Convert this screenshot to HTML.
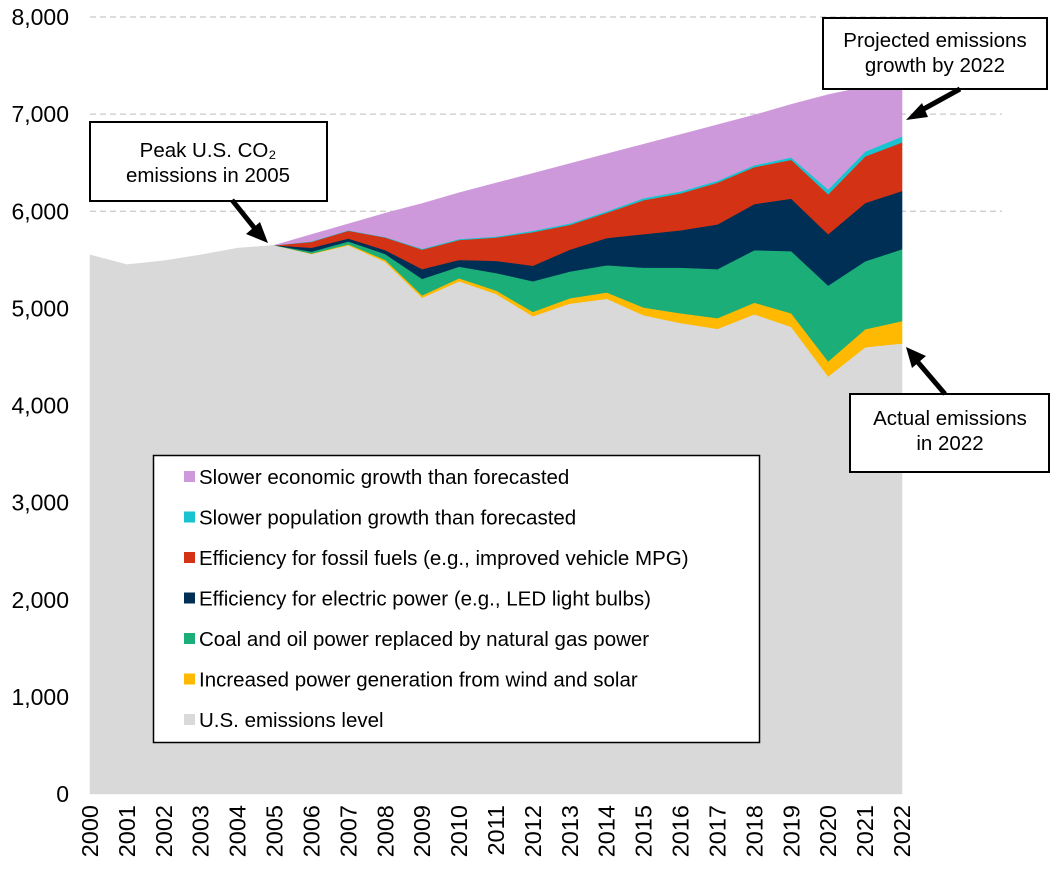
<!DOCTYPE html>
<html><head><meta charset="utf-8">
<style>
body{margin:0;background:#fff;}
svg text{font-family:"Liberation Sans",Arial,sans-serif;fill:#000;}
</style></head>
<body>
<svg id="chart" width="1056" height="866" viewBox="0 0 1056 866" xmlns="http://www.w3.org/2000/svg">
<g id="grid"></g>
<g id="areas"></g>
<g id="yaxis"></g>
<g id="xaxis"></g>
<g id="legend">
  <rect x="153.5" y="455.5" width="606" height="287" fill="#fff" stroke="#000" stroke-width="1.5"/>
</g>
<g>
  <rect x="90" y="122" width="237" height="79" fill="#fff" stroke="#000" stroke-width="2"/>
  <text x="208" y="157" font-size="20.5" text-anchor="middle">Peak U.S. CO₂</text>
  <text x="208" y="182" font-size="20.5" text-anchor="middle">emissions in 2005</text>
  <line x1="232" y1="200" x2="256" y2="230" stroke="#000" stroke-width="5"/>
  <polygon points="268,243 246,234 260,222" fill="#000"/>
</g>
<g>
  <rect x="823" y="18" width="224" height="71" fill="#fff" stroke="#000" stroke-width="2"/>
  <text x="935" y="47" font-size="20.5" text-anchor="middle">Projected emissions</text>
  <text x="935" y="72" font-size="20.5" text-anchor="middle">growth by 2022</text>
  <line x1="960" y1="89" x2="920" y2="111" stroke="#000" stroke-width="5"/>
  <polygon points="906,120 922,103 928,117" fill="#000"/>
</g>
<g>
  <rect x="850" y="394" width="199" height="78" fill="#fff" stroke="#000" stroke-width="2"/>
  <text x="950" y="425" font-size="20.5" text-anchor="middle">Actual emissions</text>
  <text x="950" y="450" font-size="20.5" text-anchor="middle">in 2022</text>
  <line x1="945" y1="394" x2="916" y2="360" stroke="#000" stroke-width="5"/>
  <polygon points="906,347 926,356 912,368" fill="#000"/>
</g>
</svg>
<script>
const years = [2000,2001,2002,2003,2004,2005,2006,2007,2008,2009,2010,2011,2012,2013,2014,2015,2016,2017,2018,2019,2020,2021,2022];
const baseLevel = [5550,5450,5490,5550,5620,5650,5560,5650,5480,5110,5280,5150,4920,5050,5100,4930,4850,4790,4940,4810,4300,4600,4640];
const windSolar = [0,0,0,0,0,0,5,10,20,25,30,35,45,55,65,80,100,110,120,140,155,185,230];
const gasSwitch = [0,0,0,0,0,0,20,30,60,170,120,180,315,275,280,410,470,505,540,640,780,700,740];
const electricEff = [0,0,0,0,0,0,40,30,40,100,70,125,160,225,280,345,385,460,475,540,530,600,600];
const fossilEff = [0,0,0,0,0,0,60,80,130,200,205,240,345,255,260,350,380,430,380,400,410,480,500];
const popGrowth = [0,0,0,0,0,0,5,5,5,10,10,10,15,15,15,20,20,20,20,25,50,50,60];
const econGrowth = [0,0,0,0,0,0,70,65,245,465,475,550,590,615,590,555,585,575,515,545,975,665,590];
const yTicks = [0,1000,2000,3000,4000,5000,6000,7000,8000];
const seriesNames = ["U.S. emissions level","Increased power generation from wind and solar","Coal and oil power replaced by natural gas power","Efficiency for electric power (e.g., LED light bulbs)","Efficiency for fossil fuels (e.g., improved vehicle MPG)","Slower population growth than forecasted","Slower economic growth than forecasted"];
const seriesColors = ["#d9d9d9","#ffb900","#1cae78","#002f56","#d43214","#19c3d0","#ce99db"];

const NS="http://www.w3.org/2000/svg";
const X0=90,X1=902,Y0=794,Y8=17;
const xs=i=>X0+(X1-X0)*(years[i]-years[0])/(years[years.length-1]-years[0]);
const ys=v=>Y0-(Y0-Y8)*v/8000;
function mk(t,a,p){const e=document.createElementNS(NS,t);for(const k in a)e.setAttribute(k,a[k]);p.appendChild(e);return e;}

const grid=document.getElementById('grid');
yTicks.forEach(v=>{if(v>=6000){const l=mk('line',{x1:X0,x2:X1+100,y1:ys(v),y2:ys(v),stroke:'#c8c8c8','stroke-width':1.2,'stroke-dasharray':'6,4'},grid);

}});

const series=[baseLevel,windSolar,gasSwitch,electricEff,fossilEff,popGrowth,econGrowth];
const areas=document.getElementById('areas');
let cum=years.map(()=>0);
series.forEach((s,k)=>{
  const lo=cum.slice(); const hi=cum.map((c,i)=>c+s[i]);
  let start=k===0?0:5;
  let pts=[];
  for(let i=start;i<years.length;i++)pts.push(xs(i)+','+ys(hi[i]));
  for(let i=years.length-1;i>=start;i--)pts.push(xs(i)+','+ys(lo[i]));
  const p=mk('polygon',{points:pts.join(' '),fill:seriesColors[k],stroke:seriesColors[k],'stroke-width':0.6},areas);
  
  
  cum=hi;
});

const ya=document.getElementById('yaxis');
yTicks.forEach(v=>{const t=mk('text',{x:69,y:ys(v)+8,'font-size':23,'text-anchor':'end'},ya);t.textContent=v.toLocaleString('en-US');

});

const xa=document.getElementById('xaxis');
years.forEach((y,i)=>{const t=mk('text',{x:0,y:0,'font-size':23.5,'text-anchor':'end',transform:`translate(${xs(i)+8},805) rotate(-90)`},xa);t.textContent=y;

});

const lg=document.getElementById('legend');
const order=[6,5,4,3,2,1,0];
order.forEach((k,j)=>{const cy=477+j*40.5;
  const g=mk('g',{},lg);
  
  
  mk('rect',{x:184,y:cy-6,width:11,height:11,fill:seriesColors[k]},g);
  const t=mk('text',{x:199,y:cy+7,'font-size':20.5},g);t.textContent=seriesNames[k];});
</script>
</body></html>
